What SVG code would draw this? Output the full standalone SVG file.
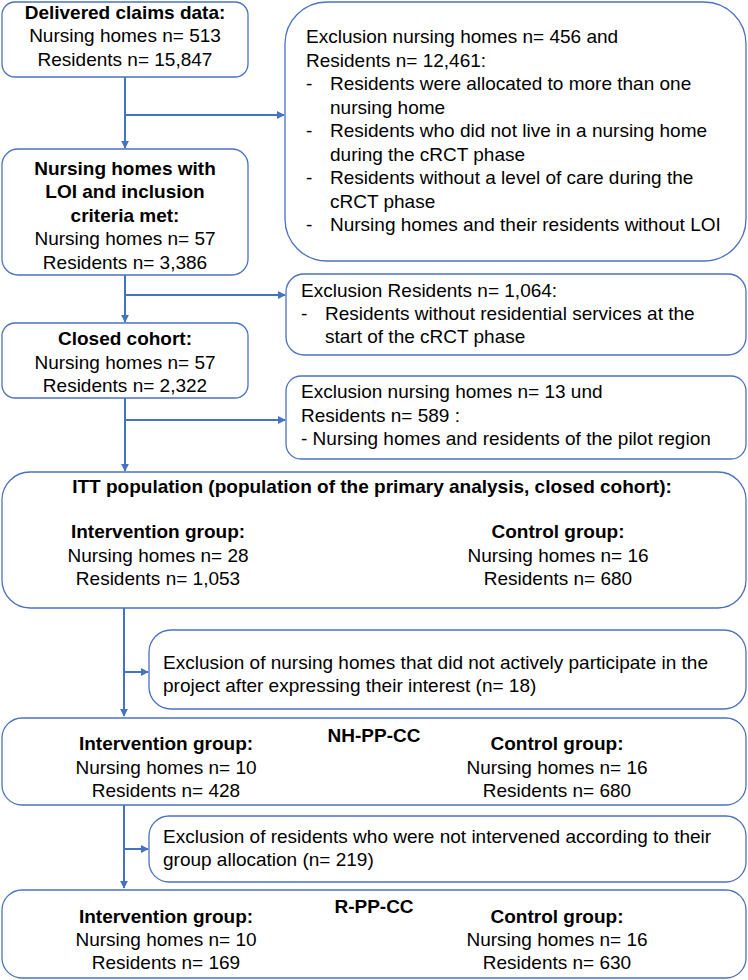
<svg xmlns="http://www.w3.org/2000/svg" width="748" height="980" viewBox="0 0 748 980">
<style>
.box{fill:#fff;stroke:#4a72c0;stroke-width:1.3}
.t{font-family:"Liberation Sans",Arial,sans-serif;font-size:19px;fill:#000}
.b{font-weight:bold}
.c{text-anchor:middle}
.ln{stroke:#4472c4;stroke-width:2;fill:none}
</style>
<defs>
<marker id="ah" viewBox="0 0 10 10" refX="9" refY="5" markerWidth="4" markerHeight="4" orient="auto" markerUnits="strokeWidth">
<path d="M0,0 L10,5 L0,10 z" fill="#4472c4"/>
</marker>
</defs>
<rect x="0" y="0" width="748" height="980" fill="#fff"/>
<g id="connectors">
<path class="ln" d="M125,77 V148" marker-end="url(#ah)"/>
<path class="ln" d="M125,115 H284" marker-end="url(#ah)"/>
<path class="ln" d="M125,275 V322" marker-end="url(#ah)"/>
<path class="ln" d="M125,295 H285" marker-end="url(#ah)"/>
<path class="ln" d="M125,398 V471" marker-end="url(#ah)"/>
<path class="ln" d="M125,420 H285" marker-end="url(#ah)"/>
<path class="ln" d="M124,608 V716" marker-end="url(#ah)"/>
<path class="ln" d="M124,672 H148" marker-end="url(#ah)"/>
<path class="ln" d="M124,805 V888" marker-end="url(#ah)"/>
<path class="ln" d="M124,849 H148" marker-end="url(#ah)"/>
</g>
<g id="delivered">
<rect class="box" x="2" y="2" width="246" height="75" rx="13"/>
<text class="t b c" x="125" y="18.5">Delivered claims data:</text>
<text class="t c" x="125" y="42">Nursing homes n= 513</text>
<text class="t c" x="125" y="65.5">Residents n= 15,847</text>
</g>
<g id="excl1">
<rect class="box" x="285" y="2" width="461" height="259" rx="42"/>
<text class="t" x="306" y="43">Exclusion nursing homes n= 456 and</text>
<text class="t" x="306" y="66.5">Residents n= 12,461:</text>
<text class="t" x="306" y="90">-</text>
<text class="t" x="330" y="90">Residents were allocated to more than one</text>
<text class="t" x="330" y="113.5">nursing home</text>
<text class="t" x="306" y="137">-</text>
<text class="t" x="330" y="137">Residents who did not live in a nursing home</text>
<text class="t" x="330" y="160.5">during the cRCT phase</text>
<text class="t" x="306" y="184">-</text>
<text class="t" x="330" y="184">Residents without a level of care during the</text>
<text class="t" x="330" y="207.5">cRCT phase</text>
<text class="t" x="306" y="231">-</text>
<text class="t" x="330" y="231">Nursing homes and their residents without LOI</text>
</g>
<g id="loi">
<rect class="box" x="2" y="149" width="246" height="126" rx="16"/>
<text class="t b c" x="125" y="175">Nursing homes with</text>
<text class="t b c" x="125" y="198">LOI and inclusion</text>
<text class="t b c" x="125" y="221.5">criteria met:</text>
<text class="t c" x="125" y="245">Nursing homes n= 57</text>
<text class="t c" x="125" y="268.5">Residents n= 3,386</text>
</g>
<g id="excl2">
<rect class="box" x="286" y="274" width="460" height="81" rx="18"/>
<text class="t" x="301" y="297">Exclusion Residents n= 1,064:</text>
<text class="t" x="301" y="320">-</text>
<text class="t" x="325" y="320">Residents without residential services at the</text>
<text class="t" x="325" y="343">start of the cRCT phase</text>
</g>
<g id="closed">
<rect class="box" x="2" y="323" width="246" height="75" rx="13"/>
<text class="t b c" x="125" y="345">Closed cohort:</text>
<text class="t c" x="125" y="368.5">Nursing homes n= 57</text>
<text class="t c" x="125" y="392">Residents n= 2,322</text>
</g>
<g id="excl3">
<rect class="box" x="286" y="376" width="460" height="83" rx="15"/>
<text class="t" x="301" y="398">Exclusion nursing homes n= 13 und</text>
<text class="t" x="301" y="422">Residents n= 589 :</text>
<text class="t" x="301" y="445">- Nursing homes and residents of the pilot region</text>
</g>
<g id="itt">
<rect class="box" x="2" y="472" width="744" height="136" rx="28"/>
<text class="t b c" x="372" y="493">ITT population (population of the primary analysis, closed cohort):</text>
<text class="t b c" x="158" y="538">Intervention group:</text>
<text class="t c" x="158" y="561.5">Nursing homes n= 28</text>
<text class="t c" x="158" y="585">Residents n= 1,053</text>
<text class="t b c" x="558" y="538">Control group:</text>
<text class="t c" x="558" y="561.5">Nursing homes n= 16</text>
<text class="t c" x="558" y="585">Residents n= 680</text>
</g>
<g id="excl4">
<rect class="box" x="149" y="630" width="597" height="79" rx="22"/>
<text class="t" x="163" y="669">Exclusion of nursing homes that did not actively participate in the</text>
<text class="t" x="163" y="692">project after expressing their interest (n= 18)</text>
</g>
<g id="nhppcc">
<rect class="box" x="2" y="718" width="744" height="87" rx="20"/>
<text class="t b c" x="374" y="742">NH-PP-CC</text>
<text class="t b c" x="166" y="750">Intervention group:</text>
<text class="t c" x="166" y="773.5">Nursing homes n= 10</text>
<text class="t c" x="166" y="797">Residents n= 428</text>
<text class="t b c" x="557" y="750">Control group:</text>
<text class="t c" x="557" y="773.5">Nursing homes n= 16</text>
<text class="t c" x="557" y="797">Residents n= 680</text>
</g>
<g id="excl5">
<rect class="box" x="149" y="816" width="597" height="66" rx="20"/>
<text class="t" x="163" y="843">Exclusion of residents who were not intervened according to their</text>
<text class="t" x="163" y="866">group allocation (n= 219)</text>
</g>
<g id="rppcc">
<rect class="box" x="2" y="890" width="744" height="88" rx="20"/>
<text class="t b c" x="374" y="913">R-PP-CC</text>
<text class="t b c" x="166" y="923">Intervention group:</text>
<text class="t c" x="166" y="946">Nursing homes n= 10</text>
<text class="t c" x="166" y="969">Residents n= 169</text>
<text class="t b c" x="557" y="923">Control group:</text>
<text class="t c" x="557" y="946">Nursing homes n= 16</text>
<text class="t c" x="557" y="969">Residents n= 630</text>
</g>
</svg>
